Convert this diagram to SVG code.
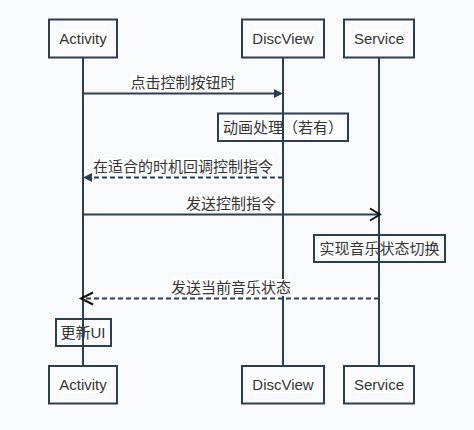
<svg xmlns="http://www.w3.org/2000/svg" width="474" height="430" viewBox="0 0 474 430">
<defs>
<style>
.bg{fill:#f8fafc}
.box{fill:none;stroke:#2c3e50;stroke-width:2}
.life{stroke:#2c3e50;stroke-width:2;fill:none}
.msg{stroke:#2c3e50;stroke-width:2;fill:none}
.dash{stroke-dasharray:5,3}
.lbg{fill:#ffffff}
.nbg{fill:#ffffff;opacity:0.75}
text{font-family:"Liberation Sans","Noto Sans CJK SC",sans-serif;font-size:15px;fill:#333333;text-anchor:middle;dominant-baseline:central}
.open{fill:none;stroke:#111111;stroke-width:2}
.fill{fill:#2c3e50;stroke:none}
</style>
</defs>
<rect class="bg" x="0" y="0" width="474" height="430"/>

<g id="activity-top">
<rect class="box" x="49" y="19.5" width="68" height="38"/>
<rect class="lbg" x="60" y="30" width="47" height="17"/>
<text x="83" y="38.5">Activity</text>
</g>
<g id="discview-top">
<rect class="box" x="242" y="19.5" width="82" height="38"/>
<rect class="lbg" x="253" y="30" width="60" height="17"/>
<text x="283" y="38.5">DiscView</text>
</g>
<g id="service-top">
<rect class="box" x="344" y="19.5" width="70" height="38"/>
<rect class="lbg" x="355" y="30" width="48" height="17"/>
<text x="379" y="38.5">Service</text>
</g>

<g id="note-anim">
<rect class="box" x="218" y="113.5" width="130" height="27.5"/>
<rect class="nbg" x="222" y="118" width="122" height="18"/>
<text x="283" y="127">动画处理（若有）</text>
</g>
<g id="note-switch">
<rect class="box" x="314" y="235" width="131" height="27"/>
<rect class="nbg" x="319" y="239.5" width="121" height="18"/>
<text x="379.5" y="248.5">实现音乐状态切换</text>
</g>
<g id="note-ui">
<rect class="box" x="56" y="319" width="55" height="27"/>
<rect class="nbg" x="60" y="323.5" width="47" height="18"/>
<text x="83" y="332.5">更新UI</text>
</g>

<g id="connectors">
<line class="life" x1="83" y1="57.5" x2="83" y2="366"/>
<line class="life" x1="283" y1="57.5" x2="283" y2="366"/>
<line class="life" x1="379" y1="57.5" x2="379" y2="366"/>

<line class="msg" x1="83" y1="93.5" x2="276" y2="93.5"/>
<polygon class="fill" points="283,93.5 274,89 274,98"/>
<rect class="lbg" x="131" y="74" width="104" height="17"/>
<text x="183" y="82.5">点击控制按钮时</text>

<line class="msg dash" x1="283" y1="177.5" x2="90" y2="177.5"/>
<polygon class="fill" points="83,177.5 92,173 92,182"/>
<rect class="lbg" x="94" y="158" width="179" height="17"/>
<text x="183" y="166.5">在适合的时机回调控制指令</text>

<line class="msg" x1="83" y1="214.5" x2="379" y2="214.5"/>
<polyline class="open" points="370,208.5 380,214.5 370,220.5"/>
<rect class="lbg" x="187" y="195" width="89" height="17"/>
<text x="231" y="203.5">发送控制指令</text>

<line class="msg dash" x1="379" y1="298.5" x2="83" y2="298.5"/>
<polyline class="open" points="93,292.5 81,298.5 93,304.5"/>
<rect class="lbg" x="172" y="279" width="119" height="17"/>
<text x="231" y="287.5">发送当前音乐状态</text>
</g>

<g id="activity-bottom">
<rect class="box" x="49" y="366" width="68" height="37.5"/>
<rect class="lbg" x="60" y="376" width="47" height="17"/>
<text x="83" y="384.5">Activity</text>
</g>
<g id="discview-bottom">
<rect class="box" x="242" y="366" width="82" height="37.5"/>
<rect class="lbg" x="253" y="376" width="60" height="17"/>
<text x="283" y="384.5">DiscView</text>
</g>
<g id="service-bottom">
<rect class="box" x="344" y="366" width="70" height="37.5"/>
<rect class="lbg" x="355" y="376" width="48" height="17"/>
<text x="379" y="384.5">Service</text>
</g>
</svg>
